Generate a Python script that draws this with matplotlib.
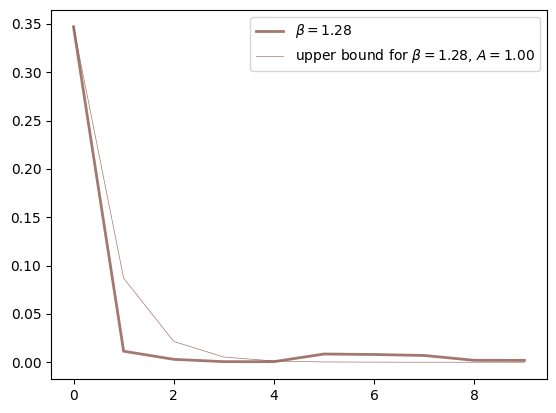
import numpy as np
import matplotlib
matplotlib.use('Agg')
import matplotlib.pyplot as plt

# data
k_values = [0, 1, 2, 3, 4, 5, 6, 7, 8, 9]
probs = [0.347, 0.0114, 0.0030, 0.0006, 0.0006, 0.0085, 0.0080, 0.0070, 0.0020, 0.0019]
bound = [0.347, 0.0870, 0.0215, 0.0054, 0.0013, 0.0003, 0.0001, 0.0, 0.0, 0.0]

beta = 1.28
A = 1.00

fig = plt.figure(figsize=(5.56, 4.13), dpi=100)
ax = fig.add_axes([0.0917, 0.0823, 0.892, 0.8935])

ax.plot(k_values, probs, color='#8c564b', alpha=0.8, linewidth=2,
        label=r'$\beta = %.2f$' % beta)
ax.plot(k_values, bound, color='#8c564b', alpha=0.8, linewidth=0.5,
        label=r'upper bound for $\beta = %.2f$, $A = %.2f$' % (beta, A))

ax.legend(loc='upper right')
fig.savefig('out.png', dpi=100)
